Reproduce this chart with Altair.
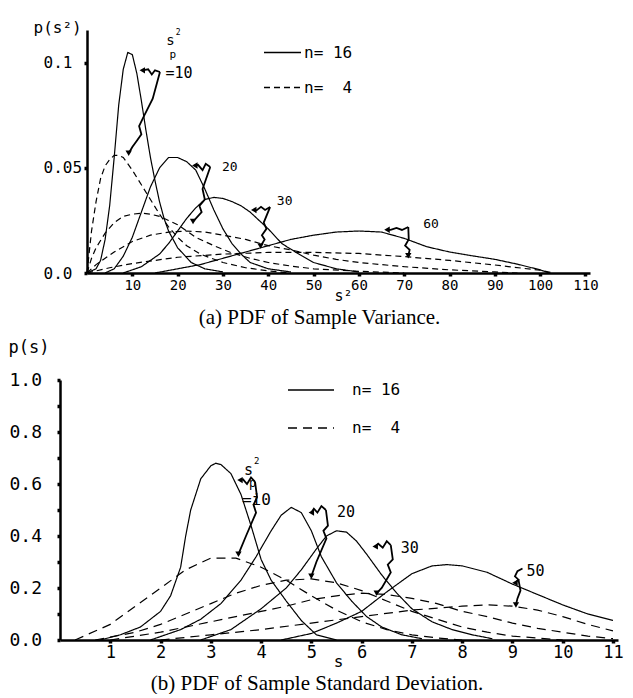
import altair as alt
import pandas as pd

MONO = "DejaVu Sans Mono"
SERIF = "Liberation Serif"
N16 = "n= 16"
N4 = "n=\u00a0 4"

# ---------------- Panel (a): PDF of sample variance ----------------
A_XTICKS = [10, 20, 30, 40, 50, 60, 70, 80, 90, 100, 110]
A_YTICKS = [0.0, 0.05, 0.1]

A_S10_X = [0, 2, 3, 4, 5, 6, 7, 8, 9, 10, 11, 12, 13, 14, 15, 16, 17, 18, 20, 23, 26, 30]
A_S10_Y = [0, 0.002, 0.006, 0.016, 0.032, 0.055, 0.08, 0.097, 0.105, 0.104, 0.095, 0.082,
           0.068, 0.055, 0.044, 0.034, 0.026, 0.02, 0.012, 0.005, 0.002, 0.0005]
A_S20_X = [4, 6, 8, 10, 12, 14, 16, 18, 20, 22, 24, 26, 28, 30, 32, 34, 36, 40, 45]
A_S20_Y = [0.0, 0.002, 0.008, 0.017, 0.029, 0.041, 0.05, 0.055, 0.055, 0.053, 0.049, 0.04,
           0.03, 0.021, 0.014, 0.009, 0.005, 0.002, 0.0005]
A_S30_X = [8, 12, 16, 18, 20, 22, 24, 26, 28, 30, 32, 34, 36, 38, 40, 43, 46, 50, 55, 60]
A_S30_Y = [0.0, 0.003, 0.009, 0.014, 0.02, 0.026, 0.031, 0.035, 0.036, 0.0355, 0.034, 0.032,
           0.029, 0.025, 0.021, 0.014, 0.01, 0.005, 0.002, 0.0005]
A_S60_X = [15, 20, 25, 30, 35, 40, 45, 50, 55, 60, 65, 70, 75, 80, 85, 90, 95, 100, 102]
A_S60_Y = [0.0, 0.002, 0.004, 0.007, 0.01, 0.013, 0.016, 0.018, 0.0195, 0.02, 0.0195, 0.0165,
           0.0125, 0.01, 0.0082, 0.0065, 0.0042, 0.0015, 0.0]

A_D10_X = [0, 1, 2, 3, 4, 5, 6, 7, 8, 10, 12, 14, 16, 18, 20, 22, 25, 30, 35, 40, 45]
A_D10_Y = [0, 0.02, 0.034, 0.045, 0.051, 0.054, 0.056, 0.056, 0.055, 0.049, 0.042, 0.035,
           0.028, 0.022, 0.017, 0.013, 0.009, 0.005, 0.0025, 0.001, 0.0]
A_D20_X = [0, 1, 2, 4, 6, 8, 10, 12, 14, 16, 18, 20, 22, 24, 28, 32, 36, 40, 45, 50, 60, 70]
A_D20_Y = [0, 0.007, 0.012, 0.019, 0.024, 0.027, 0.028, 0.0285, 0.028, 0.027, 0.025, 0.023,
           0.02, 0.017, 0.013, 0.0095, 0.007, 0.005, 0.0033, 0.002, 0.0008, 0.0]
A_D30_X = [0, 2, 4, 6, 10, 14, 18, 22, 26, 30, 35, 40, 45, 50, 55, 60, 70, 80, 90, 95]
A_D30_Y = [0, 0.004, 0.007, 0.01, 0.015, 0.018, 0.0195, 0.02, 0.0195, 0.018, 0.016, 0.013,
           0.011, 0.0085, 0.0065, 0.005, 0.003, 0.0015, 0.0005, 0.0]
A_D60_X = [0, 5, 10, 20, 30, 40, 50, 60, 70, 80, 90, 100, 103]
A_D60_Y = [0, 0.0025, 0.0045, 0.0075, 0.009, 0.0098, 0.0098, 0.0093, 0.0078, 0.006, 0.0038,
           0.0013, 0.0]

# annotation arrows (a): squiggly paths ending at an arrow head
A_ARROWS = [
    ("a10s", "left", [16.1, 15.0, 14.3, 13.5, 12.2], [0.0957, 0.0965, 0.0945, 0.097, 0.0965]),
    ("a10d", "down", [16.1, 14.5, 12.4, 11.5, 12.0, 11.0, 10.0, 9.2],
     [0.0957, 0.083, 0.074, 0.07, 0.066, 0.063, 0.06, 0.057]),
    ("a20s", "left", [27.2, 26.2, 25.5, 24.5, 23.8], [0.0505, 0.052, 0.049, 0.0515, 0.0512]),
    ("a20d", "down", [27.2, 25.5, 26.0, 24.8, 25.3, 23.4], [0.0505, 0.04, 0.035, 0.032, 0.029, 0.0245]),
    ("a30s", "left", [40.4, 39.3, 38.4, 37.4, 36.8], [0.0314, 0.03, 0.0315, 0.0298, 0.03]),
    ("a30d", "down", [40.4, 39.0, 39.6, 38.6, 39.2, 38.3], [0.0314, 0.024, 0.021, 0.018, 0.016, 0.0128]),
    ("a60s", "left", [70.9, 69.5, 68.3, 67.0, 66.2], [0.0219, 0.0205, 0.0215, 0.0205, 0.0206]),
    ("a60d", "down", [70.9, 71.0, 70.2, 71.2, 70.9], [0.0219, 0.016, 0.013, 0.011, 0.0082]),
]
A_TEXTS = [
    ("s", 17.5, 0.1105, 14), ("2", 19.6, 0.1142, 8), ("p", 18.2, 0.1038, 11),
    ("=10", 17.3, 0.0952, 15), ("20", 29.8, 0.0505, 13), ("30", 41.9, 0.0345, 13),
    ("60", 74.2, 0.0233, 13),
]

# ---------------- Panel (b): PDF of sample standard deviation ----------------
B_XTICKS = [1, 2, 3, 4, 5, 6, 7, 8, 9, 10, 11]
B_YTICKS = [0.0, 0.1, 0.2, 0.3, 0.4, 0.5, 0.6, 0.7, 0.8, 0.9, 1.0]

B_S10_X = [0.8, 1.2, 1.6, 2.0, 2.2, 2.4, 2.5, 2.6, 2.8, 3.0, 3.1, 3.2, 3.4, 3.6, 3.8, 4.0, 4.2,
           4.5, 4.8, 5.1, 5.5]
B_S10_Y = [0.0, 0.02, 0.05, 0.11, 0.17, 0.28, 0.4, 0.5, 0.62, 0.67, 0.68, 0.675, 0.64, 0.56,
           0.44, 0.31, 0.23, 0.15, 0.075, 0.02, 0.0]
B_S20_X = [1.8, 2.4, 2.8, 3.2, 3.6, 3.9, 4.2, 4.4, 4.6, 4.8, 5.0, 5.2, 5.5, 5.8, 6.1, 6.4, 6.8, 7.2]
B_S20_Y = [0.0, 0.04, 0.08, 0.14, 0.23, 0.32, 0.42, 0.48, 0.51, 0.49, 0.42, 0.32, 0.22, 0.15,
           0.09, 0.05, 0.02, 0.005]
B_S30_X = [2.8, 3.4, 4.0, 4.5, 4.8, 5.1, 5.3, 5.5, 5.7, 5.9, 6.1, 6.4, 6.7, 7.0, 7.4, 7.8, 8.2, 8.6]
B_S30_Y = [0.0, 0.04, 0.12, 0.2, 0.27, 0.35, 0.4, 0.42, 0.415, 0.38, 0.33, 0.25, 0.18, 0.12,
           0.07, 0.04, 0.02, 0.005]
B_S50_X = [4.4, 5.0, 5.5, 6.0, 6.5, 7.0, 7.4, 7.7, 8.0, 8.5, 9.0, 9.5, 10.0, 10.5, 11.0]
B_S50_Y = [0.0, 0.025, 0.065, 0.11, 0.185, 0.255, 0.285, 0.29, 0.285, 0.26, 0.215, 0.175,
           0.135, 0.1, 0.075]

B_D10_X = [0.3, 1.0, 1.5, 2.0, 2.5, 3.0, 3.5, 4.0, 4.5, 5.0, 5.5, 6.0, 6.5, 7.0, 7.5, 8.0]
B_D10_Y = [0.0, 0.06, 0.13, 0.2, 0.27, 0.315, 0.315, 0.28, 0.23, 0.17, 0.115, 0.07, 0.04,
           0.02, 0.008, 0.0]
B_D20_X = [0.7, 1.5, 2.0, 2.5, 3.0, 3.5, 4.0, 4.5, 5.0, 5.5, 6.0, 6.5, 7.0, 7.5, 8.0, 8.5, 9.0, 10.0]
B_D20_Y = [0.0, 0.03, 0.06, 0.1, 0.14, 0.18, 0.21, 0.23, 0.235, 0.22, 0.19, 0.15, 0.11, 0.08,
           0.05, 0.03, 0.015, 0.0]
B_D30_X = [1.0, 2.0, 3.0, 4.0, 4.5, 5.0, 5.5, 6.0, 6.5, 7.0, 7.5, 8.0, 8.5, 9.0, 9.5, 10.0, 10.5, 11.0]
B_D30_Y = [0.0, 0.03, 0.07, 0.11, 0.13, 0.155, 0.17, 0.18, 0.175, 0.16, 0.14, 0.11, 0.09,
           0.065, 0.045, 0.03, 0.015, 0.005]
B_D50_X = [2.0, 3.0, 4.0, 5.0, 6.0, 7.0, 8.0, 8.5, 9.0, 9.5, 10.0, 10.5, 11.0]
B_D50_Y = [0.0, 0.02, 0.04, 0.065, 0.09, 0.115, 0.13, 0.135, 0.13, 0.115, 0.09, 0.06, 0.035]

B_ARROWS = [
    ("b10s", "left", [3.88, 3.8, 3.72, 3.64, 3.58], [0.608, 0.625, 0.6, 0.618, 0.615]),
    ("b10d", "down", [3.88, 3.92, 3.85, 3.9, 3.7, 3.55], [0.608, 0.55, 0.52, 0.49, 0.4, 0.33]),
    ("b20s", "left", [5.29, 5.2, 5.12, 5.05, 5.0], [0.5, 0.515, 0.49, 0.505, 0.49]),
    ("b20d", "down", [5.29, 5.33, 5.24, 5.3, 5.1, 5.0], [0.5, 0.44, 0.42, 0.39, 0.3, 0.245]),
    ("b30s", "left", [6.58, 6.5, 6.42, 6.33, 6.27], [0.365, 0.38, 0.355, 0.37, 0.36]),
    ("b30d", "down", [6.58, 6.62, 6.52, 6.58, 6.4, 6.3], [0.365, 0.31, 0.29, 0.26, 0.2, 0.18]),
    ("b50s", "left", [9.2, 9.1, 9.05, 9.12, 9.05], [0.275, 0.265, 0.245, 0.232, 0.22]),
    ("b50d", "down", [9.12, 9.16, 9.1, 9.07], [0.232, 0.19, 0.16, 0.135]),
]
B_TEXTS = [
    ("s", 3.66, 0.655, 15), ("2", 3.86, 0.69, 9), ("p", 3.76, 0.603, 12),
    ("=i0", 3.62, 0.538, 16), ("20", 5.51, 0.492, 15), ("30", 6.78, 0.354, 15),
    ("50", 9.28, 0.265, 15),
]


def curve_frame(curves):
    rows = []
    for name, n, xs, ys in curves:
        for x, y in zip(xs, ys):
            rows.append({"curve": name, "n": n, "x": x, "y": y})
    return pd.DataFrame(rows)


def arrow_frames(arrows):
    rows, heads = [], []
    for name, kind, xs, ys in arrows:
        for i, (x, y) in enumerate(zip(xs, ys)):
            rows.append({"path": name, "i": i, "x": x, "y": y})
        heads.append({"path": name, "kind": kind, "x": xs[-1], "y": ys[-1]})
    return pd.DataFrame(rows), pd.DataFrame(heads)


def text_frame(texts):
    return pd.DataFrame([{"t": t, "x": x, "y": y, "fs": fs} for t, x, y, fs in texts])


def panel(curves, arrows, texts, xs, ys, legend, dash, caption, cap_dx, w, h):
    cdf = curve_frame(curves)
    adf, hdf = arrow_frames(arrows)
    tdf = text_frame(texts)
    lines = alt.Chart(cdf).mark_line(color="black", strokeWidth=1.2).encode(
        x=xs, y=ys, detail="curve:N",
        strokeDash=alt.StrokeDash(
            "n:N", scale=alt.Scale(domain=[N16, N4], range=[[1, 0], dash]), legend=legend),
    )
    arr = alt.Chart(adf).mark_line(color="black", strokeWidth=1.8).encode(
        x=xs, y=ys, detail="path:N", order="i:Q")
    left_heads = alt.Chart(hdf).transform_filter("datum.kind == 'left'").mark_point(
        shape="triangle-left", filled=True, color="black", size=40, opacity=1
    ).encode(x=xs, y=ys)
    down_heads = alt.Chart(hdf).transform_filter("datum.kind == 'down'").mark_point(
        shape="triangle-down", filled=True, color="black", size=40, opacity=1
    ).encode(x=xs, y=ys)
    txt = alt.Chart(tdf).mark_text(align="left", baseline="middle", font=MONO,
                                  color="black").encode(
        x=xs, y=ys, text="t:N", size=alt.Size("fs:Q", scale=None, legend=None))
    return alt.layer(lines, arr, left_heads, down_heads, txt).properties(
        width=w, height=h,
        title=alt.TitleParams(caption, orient="bottom", anchor="middle", font=SERIF,
                              fontSize=21, fontWeight="normal", color="black",
                              offset=4, dx=cap_dx),
    )


# ---- panel (a)
xa = alt.X("x:Q", scale=alt.Scale(domain=[0, 111], range=[27, 530], nice=False, zero=False),
           axis=alt.Axis(values=A_XTICKS, format="d", labelFont=MONO, labelFontSize=14,
                         labelColor="black", labelPadding=2, labelFlush=False,
                         labelOverlap=False, tickSize=3, tickWidth=3.5, tickColor="black",
                         domainColor="black", domainWidth=2.5, grid=False,
                         title="s²", titleX=283, titleY=22, titleBaseline="middle",
                         titleFont=MONO, titleFontSize=15, titleFontWeight="normal",
                         titleColor="black"))
ya = alt.Y("y:Q", scale=alt.Scale(domain=[0, 0.1157], nice=False, zero=False),
           axis=alt.Axis(values=A_YTICKS,
                         labelExpr="datum.value == 0 ? '0.0' : (datum.value < 0.07 ? '0.05' : '0.1')",
                         offset=-27, labelAlign="left", labelBaseline="middle",
                         labelPadding=41, labelFont=MONO, labelFontSize=16,
                         labelColor="black", tickSize=3, tickWidth=3.5, tickColor="black",
                         domainColor="black", domainWidth=2.5, grid=False,
                         title="p(s²)", titleAngle=0, titleAlign="left",
                         titleBaseline="middle", titleX=-54, titleY=-3, titleFont=MONO,
                         titleFontSize=16, titleFontWeight="normal", titleColor="black"))
leg_a = alt.Legend(orient="none", legendX=203, legendY=3, title=None, symbolType="stroke",
                   symbolSize=1369, symbolStrokeWidth=1.3, symbolStrokeColor="black",
                   labelFont=MONO, labelFontSize=16, labelColor="black", labelOffset=2,
                   rowPadding=7)
A_CURVES = [
    ("s10", N16, A_S10_X, A_S10_Y), ("s20", N16, A_S20_X, A_S20_Y),
    ("s30", N16, A_S30_X, A_S30_Y), ("s60", N16, A_S60_X, A_S60_Y),
    ("d10", N4, A_D10_X, A_D10_Y), ("d20", N4, A_D20_X, A_D20_Y),
    ("d30", N4, A_D30_X, A_D30_Y), ("d60", N4, A_D60_X, A_D60_Y),
]
chart_a = panel(A_CURVES, A_ARROWS, A_TEXTS, xa, ya, leg_a, [6, 4],
                "(a) PDF of Sample Variance.", -8, 535, 243)

# ---- panel (b)
xb = alt.X("x:Q", scale=alt.Scale(domain=[0, 11.1], nice=False, zero=False),
           axis=alt.Axis(values=B_XTICKS, format="d", labelFont=MONO, labelFontSize=17,
                         labelColor="black", labelPadding=1, labelFlush=False,
                         labelOverlap=False, tickSize=3, tickWidth=3.5, tickColor="black",
                         domainColor="black", domainWidth=2.5, grid=False,
                         title="s", titleX=278, titleY=21, titleBaseline="middle",
                         titleFont=MONO, titleFontSize=16, titleFontWeight="normal",
                         titleColor="black"))
yb = alt.Y("y:Q", scale=alt.Scale(domain=[0, 1.0], nice=False, zero=False),
           axis=alt.Axis(values=B_YTICKS,
                         labelExpr="round(datum.value * 10) % 2 == 0 ? format(datum.value, '.1f') : ''",
                         labelAlign="left", labelBaseline="middle", labelPadding=48,
                         labelFont=MONO, labelFontSize=18, labelColor="black",
                         tickSize=3, tickWidth=3.5, tickColor="black",
                         domainColor="black", domainWidth=2.5, grid=False,
                         title="p(s)", titleAngle=0, titleAlign="left",
                         titleBaseline="middle", titleX=-52, titleY=-33, titleFont=MONO,
                         titleFontSize=17, titleFontWeight="normal", titleColor="black"))
leg_b = alt.Legend(orient="none", legendX=227, legendY=-14, title=None, symbolType="stroke",
                   symbolSize=2116, symbolStrokeWidth=1.5, symbolStrokeColor="black",
                   labelFont=MONO, labelFontSize=16, labelColor="black", labelOffset=17,
                   rowPadding=6)
B_CURVES = [
    ("s10", N16, B_S10_X, B_S10_Y), ("s20", N16, B_S20_X, B_S20_Y),
    ("s30", N16, B_S30_X, B_S30_Y), ("s50", N16, B_S50_X, B_S50_Y),
    ("d10", N4, B_D10_X, B_D10_Y), ("d20", N4, B_D20_X, B_D20_Y),
    ("d30", N4, B_D30_X, B_D30_Y), ("d50", N4, B_D50_X, B_D50_Y),
]
chart_b = panel(B_CURVES, B_ARROWS, B_TEXTS, xb, yb, leg_b, [9, 6],
                "(b) PDF of Sample Standard Deviation.", -22, 558, 260)

chart = alt.vconcat(chart_a, chart_b, spacing=10).resolve_scale(
    x="independent", y="independent", strokeDash="independent"
).resolve_legend(strokeDash="independent").properties(
    padding={"left": 0, "top": 11, "right": 0, "bottom": 0}
).configure_view(stroke=None)

chart.save("out.html", embed_options={"renderer": "svg", "actions": False})
